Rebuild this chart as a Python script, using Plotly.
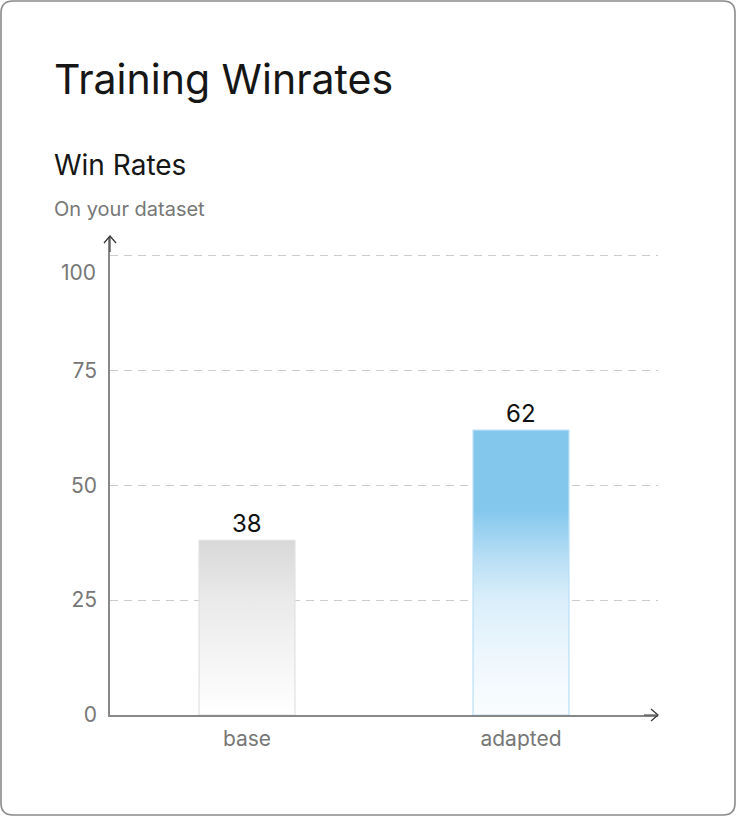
import plotly.graph_objects as go

# ---- data ----
categories = ["base", "adapted"]
win_rates = [38, 62]
y_ticks = [0, 25, 50, 75, 100]
title_text = "Training Winrates"
chart_title = "Win Rates"
chart_subtitle = "On your dataset"

# ---- layout constants ----
W, H = 736, 816
ML, MR, MT, MB = 110, 78, 237, 101
PW, PH = W - ML - MR, H - MT - MB
Y_MAX = 104
BAR_W = 0.35

def px_x(px):
    return (px - ML) / PW

def px_y(py):
    return (H - MB - py) / PH

FONT = "Inter"
TICK_FONT = dict(family=FONT, size=21, color="#777777")

fills = [
    dict(type="vertical", colorscale=[[0, "#ffffff"], [0.15, "#fafafa"], [0.66, "#eaeaea"], [1, "#d8d8d8"]]),
    dict(type="vertical", colorscale=[[0, "#fafdff"], [0.2, "#eef7fd"], [0.41, "#d9eefa"],
                                      [0.55, "#b8def5"], [0.72, "#84c7ed"], [1, "#84c7ed"]]),
]
outlines = ["#e0e0e0", "#b8dff6"]

fig = go.Figure()
for i, (cat, v) in enumerate(zip(categories, win_rates)):
    x0, x1 = i - BAR_W / 2, i + BAR_W / 2
    fig.add_trace(go.Scatter(
        x=[x0, x1, x1, x0, x0], y=[0, 0, v, v, 0],
        mode="lines", fill="toself", fillgradient=fills[i],
        line=dict(color=outlines[i], width=1.2),
        hoverinfo="skip", showlegend=False,
    ))

shapes = []
# card border with rounded corners
r = 12
lx, rx, ty, by = 1, 735, 1, 815
def P(x, y):
    return f"{px_x(x):.5f},{px_y(y):.5f}"
path = (f"M {P(lx + r, ty)} L {P(rx - r, ty)} Q {P(rx, ty)} {P(rx, ty + r)} "
        f"L {P(rx, by - r)} Q {P(rx, by)} {P(rx - r, by)} "
        f"L {P(lx + r, by)} Q {P(lx, by)} {P(lx, by - r)} "
        f"L {P(lx, ty + r)} Q {P(lx, ty)} {P(lx + r, ty)} Z")
shapes.append(dict(type="path", xref="paper", yref="paper", path=path,
                   line=dict(color="#8a8a8a", width=1.6), layer="below"))
# y axis arrow
ax, ay = ML, MT - 1
shapes.append(dict(type="path", xref="paper", yref="paper",
                   path=f"M {P(ax - 6, ay + 7)} L {P(ax, ay)} L {P(ax + 6, ay + 7)}",
                   line=dict(color="#333333", width=1.2)))
shapes.append(dict(type="line", xref="paper", yref="paper",
                   x0=px_x(ax), x1=px_x(ax), y0=px_y(ay), y1=px_y(ay + 16),
                   line=dict(color="#444444", width=1.2)))
# x axis arrow
bx, byy = W - MR, H - MB
shapes.append(dict(type="path", xref="paper", yref="paper",
                   path=f"M {P(bx - 7, byy - 6)} L {P(bx, byy)} L {P(bx - 7, byy + 6)}",
                   line=dict(color="#333333", width=1.2)))
shapes.append(dict(type="line", xref="paper", yref="paper",
                   x0=px_x(bx - 14), x1=px_x(bx), y0=px_y(byy), y1=px_y(byy),
                   line=dict(color="#555555", width=1.2)))

annotations = [
    dict(text=title_text, x=px_x(52), y=px_y(79), xref="paper", yref="paper",
         xanchor="left", yanchor="middle", showarrow=False,
         font=dict(family=FONT, size=41, color="#161616")),
    dict(text=chart_title, x=px_x(52), y=px_y(165), xref="paper", yref="paper",
         xanchor="left", yanchor="middle", showarrow=False,
         font=dict(family=FONT, size=28, color="#161616")),
    dict(text=chart_subtitle, x=px_x(52), y=px_y(209), xref="paper", yref="paper",
         xanchor="left", yanchor="middle", showarrow=False,
         font=dict(family=FONT, size=20, color="#777777")),
]
# value labels above bars
for i, v in enumerate(win_rates):
    annotations.append(dict(text=str(v), x=i, y=v, xref="x", yref="y",
                            xanchor="center", yanchor="middle", yshift=17, showarrow=False,
                            font=dict(family=FONT, size=24, color="#111111")))

# top tick label is drawn nudged down (as in the reference)
top_tick = y_ticks[-1]
tick_text = [str(t) for t in y_ticks[:-1]] + [""]
annotations.append(dict(text=str(top_tick), x=0, y=top_tick, xref="paper", yref="y",
                        xanchor="right", yanchor="middle", xshift=-12, yshift=-17,
                        showarrow=False, font=TICK_FONT))

fig.update_layout(
    width=W, height=H,
    margin=dict(l=ML, r=MR, t=MT, b=MB),
    paper_bgcolor="white", plot_bgcolor="white",
    shapes=shapes, annotations=annotations,
    showlegend=False,
    xaxis=dict(range=[-0.5, len(categories) - 0.5], tickvals=list(range(len(categories))),
               ticktext=categories, showgrid=False, zeroline=False,
               showline=True, linecolor="#888888", linewidth=1.5,
               ticks="", ticklabelstandoff=4,
               tickfont=TICK_FONT, fixedrange=True),
    yaxis=dict(range=[0, Y_MAX], tickvals=y_ticks, ticktext=tick_text, showgrid=True,
               gridcolor="#cccccc", griddash="8px,6px", gridwidth=1,
               zeroline=False, showline=True, linecolor="#888888", linewidth=1.5,
               ticks="", ticklabelstandoff=7,
               tickfont=TICK_FONT, fixedrange=True),
)

fig.write_html("out.html", config={"displayModeBar": False},
               post_script="document.body.style.margin='0';")
